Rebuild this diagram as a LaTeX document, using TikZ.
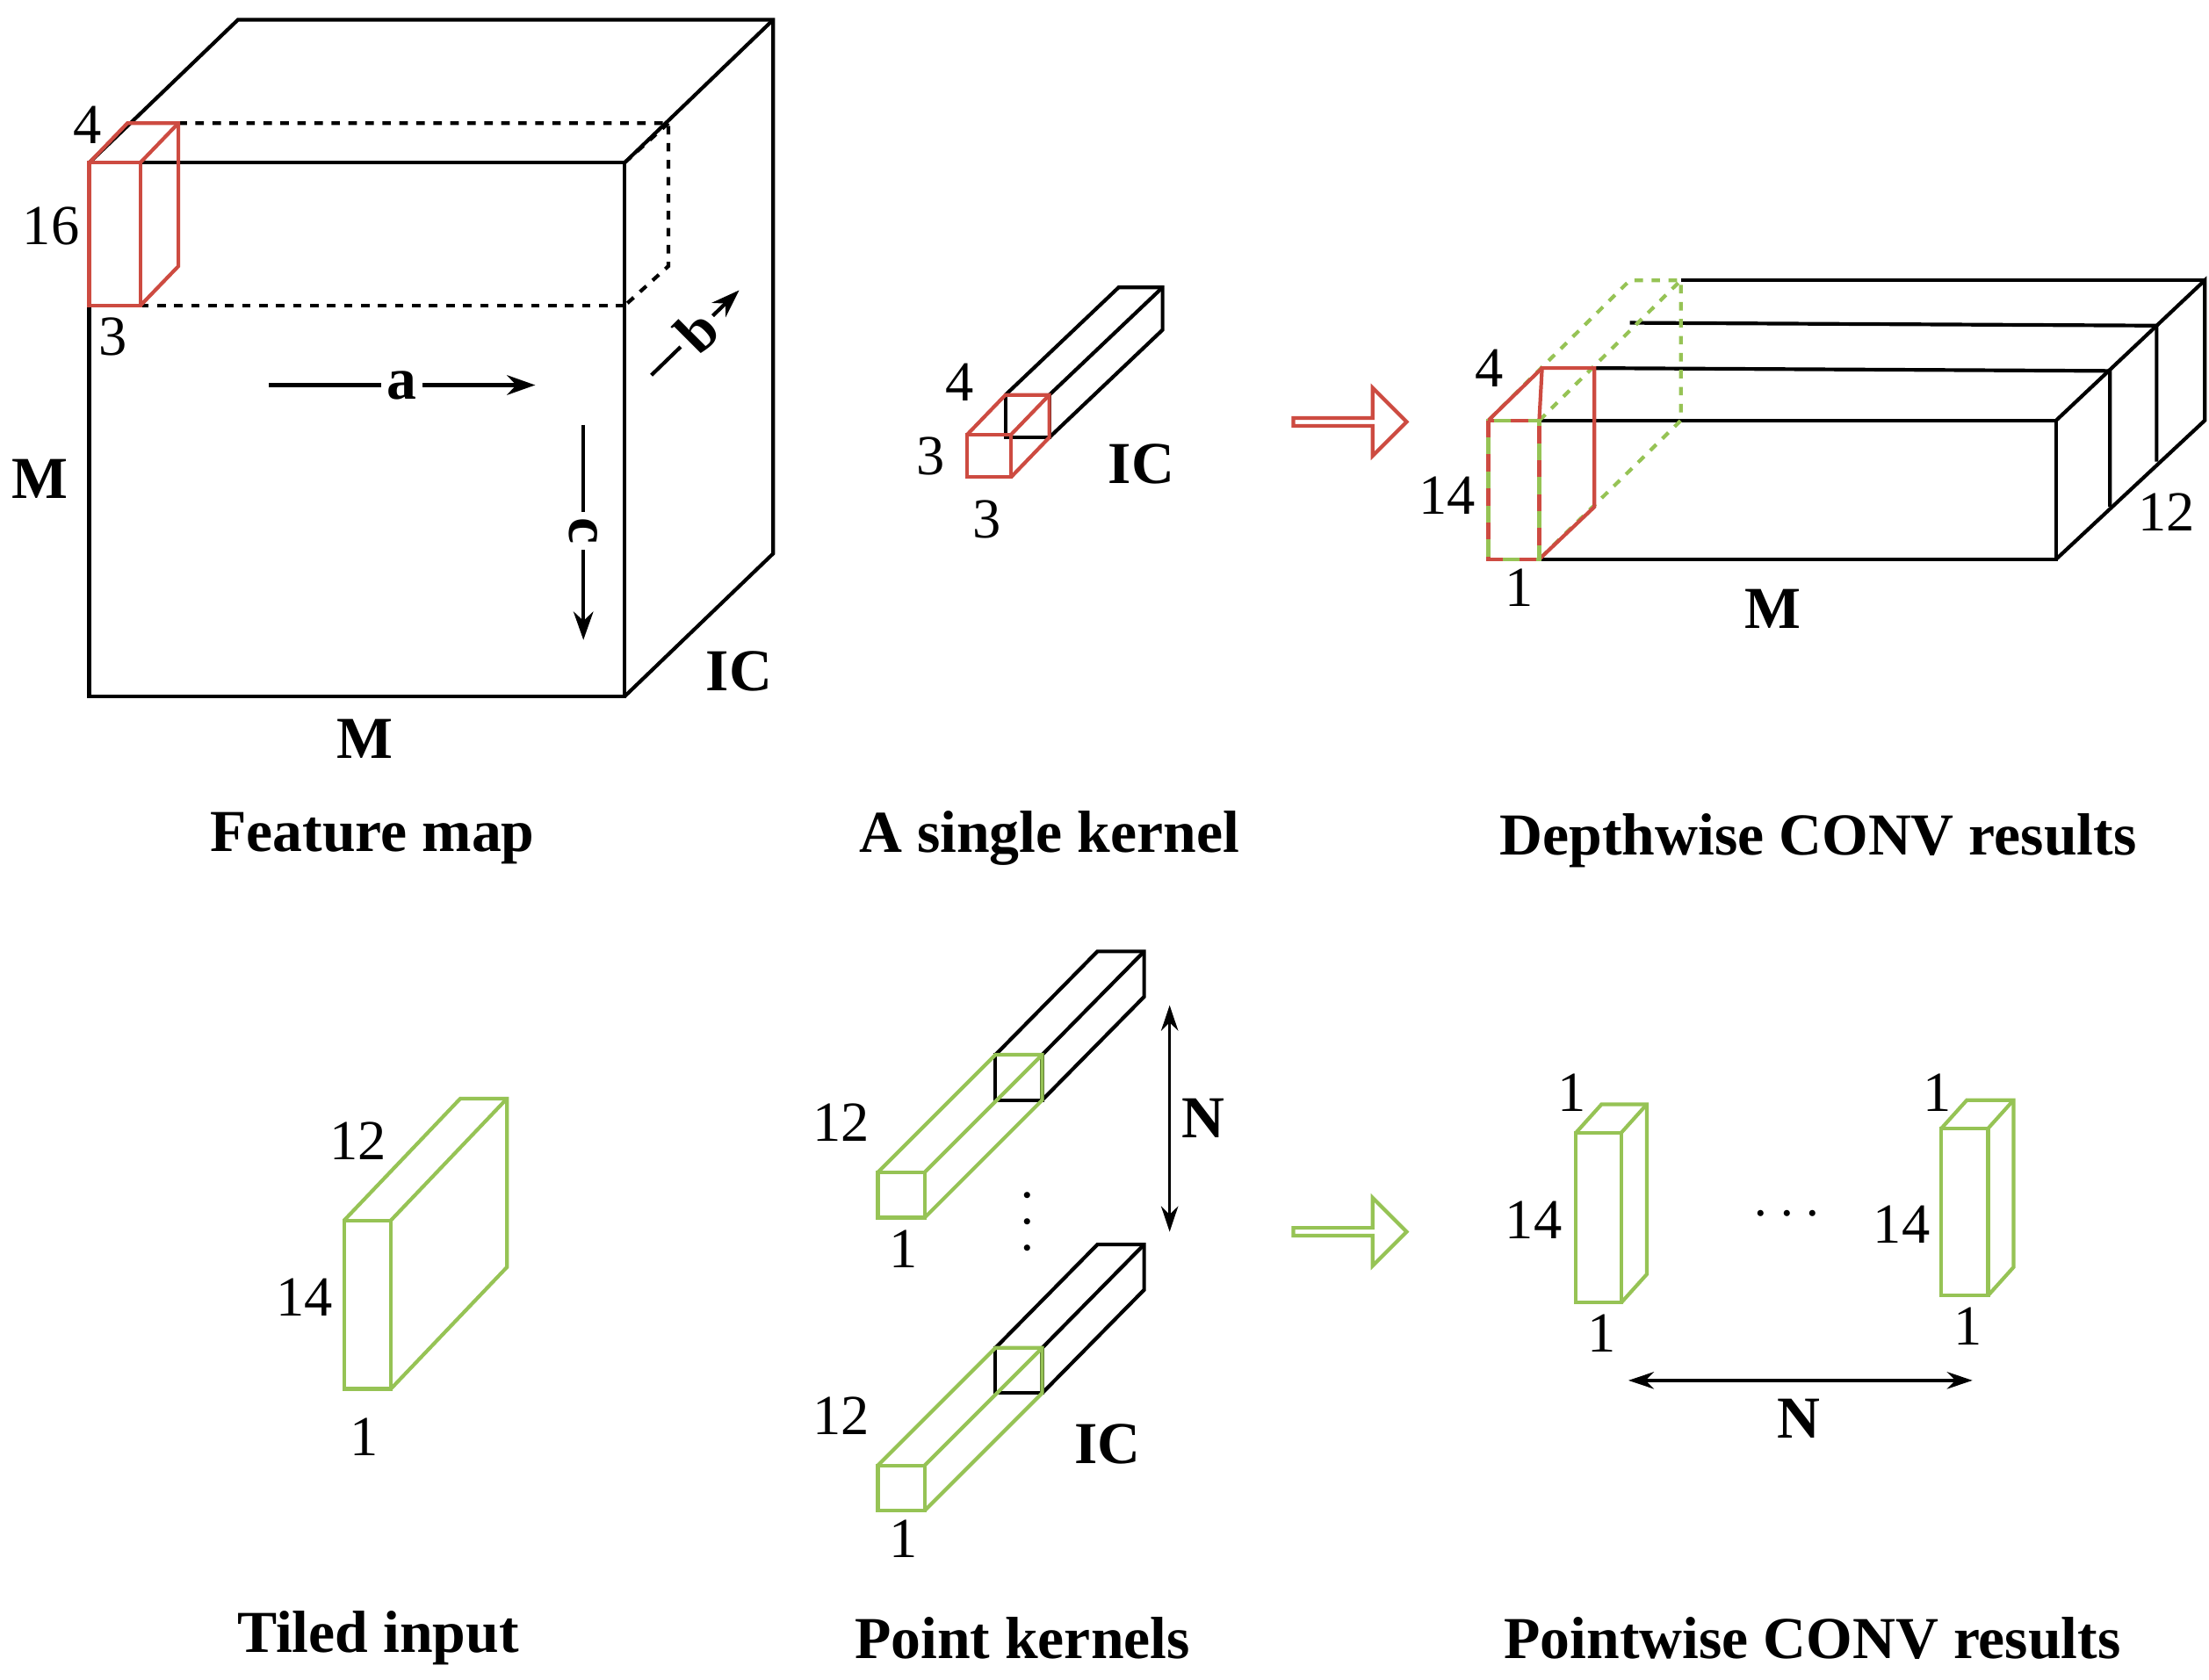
\documentclass[tikz,border=0pt]{standalone}
\usepackage{fontspec}
\setmainfont{Liberation Serif}
\usetikzlibrary{calc,shapes.arrows,arrows.meta}
\definecolor{kred}{RGB}{205,75,65}
\definecolor{kgreen}{RGB}{150,195,85}
\tikzset{
  ln/.style={line width=1.3pt,line join=miter},
  rd/.style={ln,draw=kred},
  gr/.style={ln,draw=kgreen},
  num/.style={font=\fontsize{20}{24}\selectfont,inner sep=0},
  bl/.style={font=\fontsize{21}{25}\selectfont\bfseries,inner sep=0},
  captxt/.style={font=\fontsize{21}{25}\selectfont\bfseries,inner sep=0},
  ar/.style={line width=1.3pt,-{Stealth[length=10pt,width=7pt]}},
  dar/.style={line width=1.1pt,{Stealth[length=9pt,width=6pt]}-{Stealth[length=9pt,width=6pt]}},
  hol/.style={single arrow,draw=#1,line width=1.3pt,fill=white,minimum height=40pt,minimum width=24pt,single arrow head extend=5pt,inner sep=0},
}
\newcommand\cub[7]{%
  \draw[#1] (#2,#3) rectangle (#4,#5);
  \draw[#1] (#2,#3) -- ++(#6,#7) -- ($(#4,#3)+(#6,#7)$) -- ($(#4,#5)+(#6,#7)$) -- (#4,#5);
  \draw[#1] (#4,#3) -- ++(#6,#7);}
\begin{document}
\begin{tikzpicture}[x=0.5pt,y=-0.5pt]
\useasboundingbox (0,0) rectangle (1560,1186);
% ---- Feature map
\cub{ln}{63}{115}{441}{492}{105}{-101}
\draw[ln,dashed] (126,87) -- (472,87) -- (472,188) -- (441,216);
\draw[ln,dashed] (441,115) -- (472,87);
\draw[ln,dashed] (99,216) -- (441,216);
\draw[draw=white,fill=white] (64,116) rectangle (98,215);
\cub{rd}{63}{115}{99}{216}{27}{-28}
\node[num] (f4) at (62,88) {4};
\node[num] (f16) at (36,160) {16};
\node[num] (f3) at (80,238) {3};
\coordinate (a1) at (190,272); \coordinate (a2) at (378,272);
\draw[ar] (a1) -- (a2);
\node[bl,fill=white,inner sep=2pt] (la) at (284,272) {a};
\coordinate (b1) at (460,265); \coordinate (b2) at (522,205);
\draw[ar] (b1) -- (b2);
\node[bl,fill=white,inner sep=2pt,rotate=45] (lb) at (492,234) {b};
\coordinate (c1) at (412,300); \coordinate (c2) at (412,452);
\draw[ar] (c1) -- (c2);
\node[bl,fill=white,inner sep=2pt,rotate=-90] (lc) at (412,375) {c};
\node[bl] (fM1) at (28,338) {M};
\node[bl] (fM2) at (258,522) {M};
\node[bl] (fIC) at (522,474) {IC};
\node[captxt] (c1t) at (263,592) {Feature map};
% ---- single kernel
\cub{ln}{710}{279}{741}{309}{80}{-76}
\cub{rd}{683}{307}{714}{337}{27}{-28}
\node[num] (k4) at (678,270) {4};
\node[num] (k3a) at (657,322) {3};
\node[num] (k3b) at (697,367) {3};
\node[bl] (kIC) at (806,328) {IC};
\node[captxt] (c2t) at (741,592) {A single kernel};
\node[hol=kred] (arr1) at (952,298) {};
% ---- depthwise
\draw[ln] (1087,297) -- (1452,297) -- (1452,395) -- (1087,395);
\draw[ln] (1452,297) -- (1557,198) -- (1557,297) -- (1452,395);
\draw[ln] (1187,198) -- (1557,198);
\draw[ln] (1151,228) -- (1523,230) -- (1523,326);
\draw[ln] (1126,260) -- (1490,262) -- (1490,358);
\draw[gr,dashed] (1051,297) -- (1151,198) -- (1187,198) -- (1187,297) -- (1087,395);
\draw[gr,dashed] (1087,297) -- (1187,198);
\draw[rd] (1087,297) -- (1089,260) -- (1126,260) -- (1126,358) -- (1087,395);
\draw[rd] (1051,297) -- (1089,260);
\draw[gr] (1051,297) rectangle (1087,395);
\draw[rd,dash pattern=on 6pt off 6pt] (1051,297) rectangle (1087,395);
\node[num] (d4) at (1052,260) {4};
\node[num] (d14) at (1022,350) {14};
\node[num] (d1) at (1073,415) {1};
\node[bl] (dM) at (1252,430) {M};
\node[num] (d12) at (1530,362) {12};
\node[captxt] (c3t) at (1284,594) {Depthwise CONV results};
% ---- tiled input
\cub{gr}{243}{862}{276}{981}{82}{-86}
\node[num] (t12) at (253,806) {12};
\node[num] (t14) at (215,916) {14};
\node[num] (t1) at (257,1015) {1};
\node[captxt] (c4t) at (267,1157) {Tiled input};
% ---- point kernels
\cub{ln}{703}{745}{736}{777}{72}{-73}
\cub{gr}{620}{828}{653}{860}{83}{-83}
\cub{ln}{703}{952}{736}{984}{72}{-73}
\cub{gr}{620}{1035}{653}{1067}{83}{-83}
\node[num] (p12a) at (594,793) {12};
\node[num] (p1a) at (638,882) {1};
\node[num] (p12b) at (594,1000) {12};
\node[num] (p1b) at (638,1087) {1};
\node[bl] (pdots) at (727,863) {\rotatebox{90}{$\cdots$}};
\coordinate (n1) at (826,710); \coordinate (n2) at (826,870);
\draw[dar] (n1) -- (n2);
\node[bl] (pN) at (850,790) {N};
\node[bl] (pIC) at (782,1020) {IC};
\node[captxt] (c5t) at (722,1157) {Point kernels};
\node[hol=kgreen] (arr2) at (952,870) {};
% ---- pointwise results
\cub{gr}{1113}{800}{1145}{920}{18}{-20}
\cub{gr}{1371}{797}{1404}{915}{18}{-20}
\node[num] (r1a) at (1110,772) {1};
\node[num] (r14a) at (1083,862) {14};
\node[num] (r1b) at (1131,942) {1};
\node[num] (r1c) at (1368,772) {1};
\node[num] (r14b) at (1343,865) {14};
\node[num] (r1d) at (1390,937) {1};
\node[bl] (rdots) at (1262,858) {$\cdots$};
\coordinate (m1) at (1150,975); \coordinate (m2) at (1393,975);
\draw[dar] (m1) -- (m2);
\node[bl] (rN) at (1270,1002) {N};
\node[captxt] (c6t) at (1280,1157) {Pointwise CONV results};
\end{tikzpicture}
\end{document}
